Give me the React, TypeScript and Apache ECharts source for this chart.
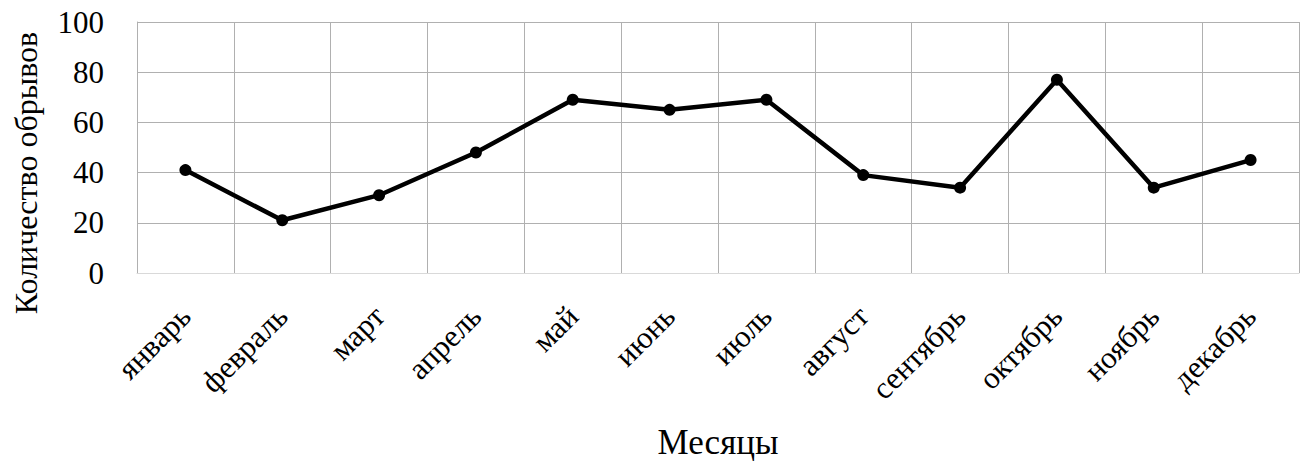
import React, { useEffect, useRef } from "react";
import * as echarts from "echarts";

const months = [
  "январь", "февраль", "март", "апрель", "май", "июнь",
  "июль", "август", "сентябрь", "октябрь", "ноябрь", "декабрь",
];
const breaks = [41, 21, 31, 48, 69, 65, 69, 39, 34, 77, 34, 45];
const yTicks = { min: 0, max: 100, interval: 20 };
const yTitle = "Количество обрывов";
const xTitle = "Месяцы";

const serif = "'Liberation Serif', 'Times New Roman', serif";

export default function App() {
  const ref = useRef<HTMLDivElement>(null);

  useEffect(() => {
    if (!ref.current) return;
    const chart = echarts.init(ref.current, undefined, { renderer: "svg" });
    chart.setOption({
      animation: false,
      backgroundColor: "#ffffff",
      grid: { left: 137, right: 10, top: 22, bottom: 190, containLabel: false },
      xAxis: {
        type: "category",
        data: months,
        boundaryGap: true,
        name: xTitle,
        nameLocation: "middle",
        nameGap: 152,
        nameTextStyle: { fontFamily: serif, fontSize: 35, color: "#000" },
        axisLine: { show: true, lineStyle: { color: "#d9d9d9", width: 1 } },
        axisTick: { show: false },
        axisLabel: {
          rotate: 45,
          interval: 0,
          margin: 38,
          fontFamily: serif,
          fontSize: 31,
          color: "#000",
        },
        splitLine: { show: true, lineStyle: { color: "#b0b0b0", width: 1 } },
      },
      yAxis: {
        type: "value",
        min: yTicks.min,
        max: yTicks.max,
        interval: yTicks.interval,
        axisLine: { show: true, lineStyle: { color: "#b0b0b0", width: 1 } },
        axisTick: { show: false },
        axisLabel: {
          margin: 33,
          fontFamily: serif,
          fontSize: 31,
          color: "#000",
        },
        splitLine: { show: true, lineStyle: { color: "#b0b0b0", width: 1 } },
      },
      graphic: [
        {
          type: "text",
          x: 26,
          y: 173,
          rotation: Math.PI / 2,
          style: {
            text: yTitle,
            fontFamily: serif,
            fontSize: 32,
            fill: "#000",
            textAlign: "center",
            textVerticalAlign: "middle",
          },
        },
      ],
      series: [
        {
          type: "line",
          data: breaks,
          symbol: "circle",
          symbolSize: 12,
          lineStyle: { color: "#000", width: 4.5 },
          itemStyle: { color: "#000" },
        },
      ],
    });
    return () => chart.dispose();
  }, []);

  return (
    <div
      ref={ref}
      style={{ position: "absolute", left: 0, top: 0, width: 1309, height: 465 }}
    />
  );
}
